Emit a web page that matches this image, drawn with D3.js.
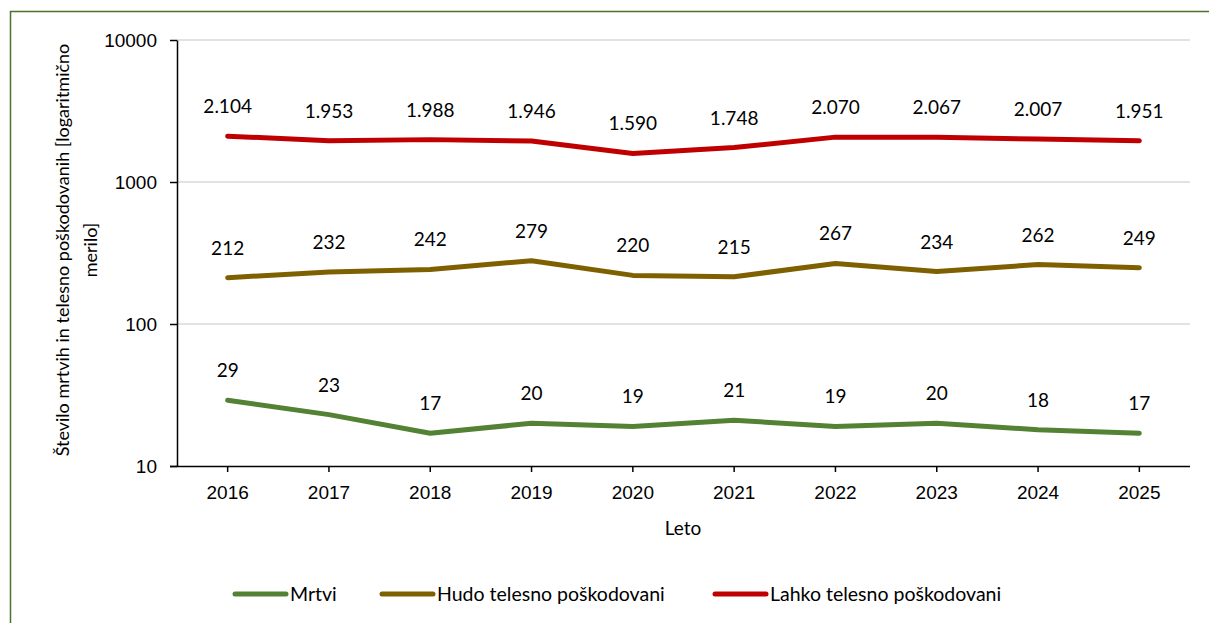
<!DOCTYPE html>
<html>
<head>
<meta charset="utf-8">
<script src="https://cdn.jsdelivr.net/npm/d3@7"></script>
<style>
  body { margin: 0; background: #fff; }
  svg { display: block; font-family: Lato, "Open Sans", sans-serif; }
  .grid line { stroke: #d9d9d9; stroke-width: 1.5; }
  .axis path, .axis line { stroke: #000; stroke-width: 1.5; }
  .axis text { font-size: 19px; fill: #000; }
  .lbl { font-size: 19px; fill: #000; text-anchor: middle; }
</style>
</head>
<body>
<svg id="chart" width="1209" height="623"></svg>
<script>
// chart data
const years = ['2016', '2017', '2018', '2019', '2020', '2021', '2022', '2023', '2024', '2025'];
const mrtvi = [29, 23, 17, 20, 19, 21, 19, 20, 18, 17];
const hudo = [212, 232, 242, 279, 220, 215, 267, 234, 262, 249];
const lahko = [2104, 1953, 1988, 1946, 1590, 1748, 2070, 2067, 2007, 1951];
const yTicks = [10, 100, 1000, 10000];

const series = [
  { name: 'Mrtvi', values: mrtvi, color: '#548235' },
  { name: 'Hudo telesno poškodovani', values: hudo, color: '#7f6000' },
  { name: 'Lahko telesno poškodovani', values: lahko, color: '#c00000' }
];

const margin = { left: 177, right: 19, top: 40, bottom: 157 };
const W = 1209, H = 623;

const svg = d3.select('#chart');

// outer frame
svg.append('rect')
  .attr('x', 10.5).attr('y', 11.5)
  .attr('width', W + 20).attr('height', H + 20)
  .attr('fill', '#fff')
  .attr('stroke', '#4f6f2a').attr('stroke-width', 1.5);

const x = d3.scaleBand()
  .domain(years)
  .range([margin.left, W - margin.right]);

const y = d3.scaleLog()
  .domain([10, 10000])
  .range([H - margin.bottom, margin.top]);

// gridlines
svg.append('g').attr('class', 'grid')
  .selectAll('line')
  .data(yTicks.slice(1))
  .join('line')
  .attr('x1', margin.left).attr('x2', W - margin.right)
  .attr('y1', d => y(d)).attr('y2', d => y(d));

// y axis
svg.append('g').attr('class', 'axis')
  .attr('transform', `translate(${margin.left},0)`)
  .call(d3.axisLeft(y).tickValues(yTicks).tickFormat(d3.format('d')).tickSize(7).tickSizeOuter(0).tickPadding(13));

// x axis
const xAxis = svg.append('g').attr('class', 'axis')
  .attr('transform', `translate(0,${H - margin.bottom})`)
  .call(d3.axisBottom(x).tickSize(6).tickSizeOuter(0).tickPadding(14));
xAxis.select('.domain').attr('d', `M${margin.left - 7},0.5H${W - margin.right}`);

// axis titles
svg.append('text')
  .attr('x', 683).attr('y', 535)
  .attr('text-anchor', 'middle')
  .style('font-size', '19px')
  .text('Leto');

const yTitle = svg.append('text')
  .attr('transform', 'translate(69,250) rotate(-90)')
  .attr('text-anchor', 'middle')
  .style('font-size', '18px');
yTitle.append('tspan').attr('x', 0).attr('dy', 0)
  .text('Število mrtvih in telesno poškodovanih [logaritmično');
yTitle.append('tspan').attr('x', 0).attr('dy', 28)
  .text('merilo]');

// lines
const line = d3.line()
  .x((d, i) => x(years[i]) + x.bandwidth() / 2)
  .y(d => y(d));

const fmt = v => v >= 1000 ? d3.format(',')(v).replace(',', '.') : String(v);

series.forEach(s => {
  svg.append('path')
    .datum(s.values)
    .attr('fill', 'none')
    .attr('stroke', s.color)
    .attr('stroke-width', 5)
    .attr('stroke-linecap', 'round')
    .attr('stroke-linejoin', 'round')
    .attr('d', line);

  svg.append('g').selectAll('text')
    .data(s.values)
    .join('text')
    .attr('class', 'lbl')
    .attr('x', (d, i) => x(years[i]) + x.bandwidth() / 2)
    .attr('y', d => y(d) - 23)
    .text(fmt);
});

// legend
const legendX = [233, 380, 713];
const leg = svg.append('g').selectAll('g')
  .data(series)
  .join('g')
  .attr('transform', (d, i) => `translate(${legendX[i]},594)`);
leg.append('line')
  .attr('x1', 2).attr('x2', 53)
  .attr('stroke', d => d.color)
  .attr('stroke-width', 5)
  .attr('stroke-linecap', 'round');
leg.append('text')
  .attr('x', 57).attr('dy', '0.35em')
  .style('font-size', '19.5px')
  .text(d => d.name);
</script>
</body>
</html>
